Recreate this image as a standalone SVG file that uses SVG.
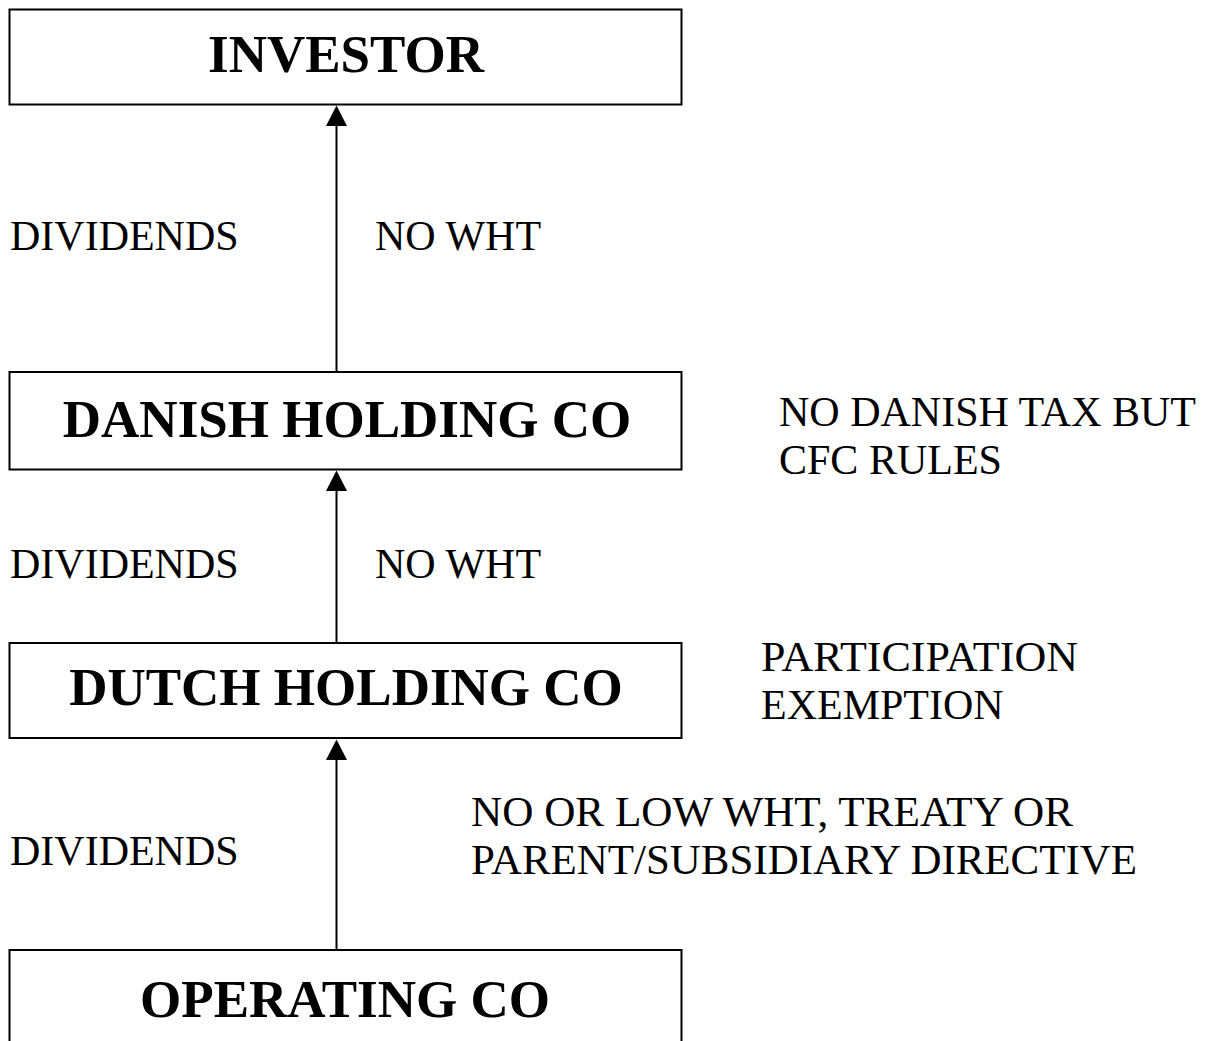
<svg xmlns="http://www.w3.org/2000/svg" width="1211" height="1041" viewBox="0 0 1211 1041">
<style>
.box{fill:#fff;stroke:#000;stroke-width:2}
.title{font-family:"Liberation Serif","Times New Roman",serif;font-weight:bold;font-size:53px;fill:#000;text-anchor:middle}
.lbl{font-family:"Liberation Serif","Times New Roman",serif;font-size:42px;fill:#000}
.conn{stroke:#000;stroke-width:2;fill:none}
.head{fill:#000}
</style>
<rect width="1211" height="1041" fill="#fff"/>
<g id="investor">
<rect class="box" x="9.5" y="9.5" width="672" height="95"/>
<text class="title" x="346" y="72">INVESTOR</text>
</g>
<g id="danish">
<rect class="box" x="9.5" y="372" width="672" height="97.5"/>
<text class="title" x="347" y="437">DANISH HOLDING CO</text>
</g>
<g id="dutch">
<rect class="box" x="9.5" y="643" width="672" height="95"/>
<text class="title" x="346" y="705">DUTCH HOLDING CO</text>
</g>
<g id="operating">
<rect class="box" x="9.5" y="950" width="672" height="110"/>
<text class="title" x="345" y="1017">OPERATING CO</text>
</g>
<g id="connectors">
<line class="conn" x1="336.5" y1="126" x2="336.5" y2="372"/>
<polygon class="head" points="336.5,105.5 326,126 347,126"/>
<line class="conn" x1="336.5" y1="491" x2="336.5" y2="643"/>
<polygon class="head" points="336.5,470.5 326,491 347,491"/>
<line class="conn" x1="336.5" y1="760" x2="336.5" y2="950"/>
<polygon class="head" points="336.5,739.5 326,760 347,760"/>
</g>
<g id="labels">
<text class="lbl" x="10" y="250">DIVIDENDS</text>
<text class="lbl" x="375" y="250">NO WHT</text>
<text class="lbl" x="779" y="426">NO DANISH TAX BUT</text>
<text class="lbl" x="779" y="474">CFC RULES</text>
<text class="lbl" x="10" y="578">DIVIDENDS</text>
<text class="lbl" x="375" y="578">NO WHT</text>
<text class="lbl" x="761" y="671" textLength="317" lengthAdjust="spacingAndGlyphs">PARTICIPATION</text>
<text class="lbl" x="761" y="719">EXEMPTION</text>
<text class="lbl" x="471" y="826" textLength="602" lengthAdjust="spacingAndGlyphs">NO OR LOW WHT, TREATY OR</text>
<text class="lbl" x="471" y="874" textLength="666" lengthAdjust="spacingAndGlyphs">PARENT/SUBSIDIARY DIRECTIVE</text>
<text class="lbl" x="10" y="865">DIVIDENDS</text>
</g>
</svg>
